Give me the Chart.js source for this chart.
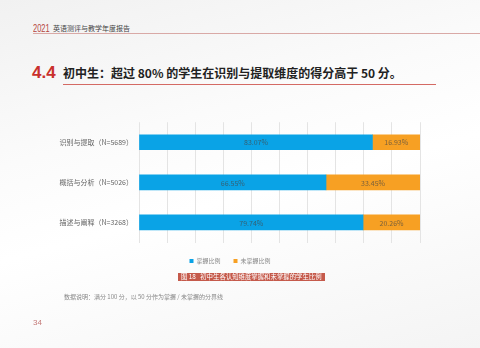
<!DOCTYPE html>
<html>
<head>
<meta charset="utf-8">
<script src="https://cdn.jsdelivr.net/npm/chart.js@4.4.0/dist/chart.umd.min.js"></script>
<style>
  html, body { margin: 0; padding: 0; }
  body {
    width: 480px; height: 348px; position: relative; overflow: hidden;
    font-family: "Noto Sans CJK SC", "Noto Sans", sans-serif;
    background: linear-gradient(165deg, #f1f1f1 0%, #fbfbfb 35%, #ffffff 55%, #f4f4f4 100%);
  }
  .abs { position: absolute; white-space: nowrap; }
  #year { left: 33px; top: 23px; font-family: "Liberation Sans", sans-serif;
          font-size: 11px; color: #b5443c; line-height: 11px;
          transform: scaleX(0.68); transform-origin: left top; }
  #report { left: 53px; top: 24px; font-size: 7px; color: #444; line-height: 9px; }
  #topline { left: 33px; top: 33px; width: 447px; height: 0; border-top: 1px solid #d9a9a6; }
  #num { left: 32px; top: 63px; font-family: "Liberation Sans", Arial, sans-serif; font-weight: bold;
         font-size: 17px; color: #c9302c; line-height: 20px; }
  #title { left: 63px; top: 65px; font-size: 12px; font-weight: bold; color: #222; line-height: 16px; }
  #titleline { left: 63px; top: 84px; width: 373px; height: 0; border-top: 1px solid #d46a64; }
  #wrap { left: 40px; top: 112px; width: 410px; height: 162px; }
  #caption { left: 178px; top: 273px; width: 144px; height: 8px; background: #c55a4b; color: #fff;
             font-size: 6.4px; line-height: 8px; padding-left: 3px; }
  #note { left: 64px; top: 292px; font-size: 6px; color: #888; line-height: 9px; }
  #page { left: 33px; top: 318px; font-size: 8px; color: #c47a78; line-height: 10px;
          font-family: "Liberation Sans", sans-serif; }
</style>
</head>
<body>
<div class="abs" id="year">2021</div>
<div class="abs" id="report">英语测评与教学年度报告</div>
<div class="abs" id="topline"></div>
<div class="abs" id="num">4.4</div>
<div class="abs" id="title">初中生：超过 80% 的学生在识别与提取维度的得分高于 50 分。</div>
<div class="abs" id="titleline"></div>
<div class="abs" id="wrap"><canvas id="chart" width="410" height="162"></canvas></div>
<div class="abs" id="caption">图 18&nbsp;&nbsp;&nbsp;初中生各认知维度掌握和未掌握的学生比例</div>
<div class="abs" id="note">数据说明：满分 100 分，以 50 分作为掌握 / 未掌握的分界线</div>
<div class="abs" id="page">34</div>

<script>
// categories and series
var categories = ['识别与提取（N=5689）', '概括与分析（N=5026）', '描述与阐释（N=3268）'];
var mastered = [83.07, 66.55, 79.74];
var notMastered = [16.93, 33.45, 20.26];
var seriesNames = ['掌握比例', '未掌握比例'];
var tickValues = [0, 10, 20, 30, 40, 50, 60, 70, 80, 90, 100];

var colors = ['#0aa3e6', '#f7a023'];
var font = '"Noto Sans CJK SC", "Noto Sans", sans-serif';

// percentage text centred inside each bar segment
var barLabels = {
    id: 'barLabels',
    afterDatasetsDraw: function (chart) {
        var ctx = chart.ctx;
        ctx.save();
        ctx.font = '7px ' + font;
        ctx.fillStyle = 'rgba(70,70,70,0.7)';
        ctx.textAlign = 'center';
        ctx.textBaseline = 'middle';
        chart.data.datasets.forEach(function (ds, i) {
            chart.getDatasetMeta(i).data.forEach(function (bar, j) {
                var p = bar.getProps(['x', 'base', 'y'], true);
                ctx.fillText(ds.data[j].toFixed(2) + '%', (p.x + p.base) / 2, p.y + 0.5);
            });
        });
        ctx.restore();
    }
};

new Chart(document.getElementById('chart'), {
    type: 'bar',
    data: {
        labels: categories,
        datasets: [
            { label: seriesNames[0], data: mastered, backgroundColor: colors[0], barThickness: 15 },
            { label: seriesNames[1], data: notMastered, backgroundColor: colors[1], barThickness: 15 }
        ]
    },
    options: {
        indexAxis: 'y',
        responsive: false,
        animation: false,
        layout: { padding: { top: 8.5, right: 30, bottom: 0, left: 0 } },
        scales: {
            x: {
                stacked: true, min: 0, max: 100,
                afterBuildTicks: function (s) { s.ticks = tickValues.map(function (v) { return { value: v }; }); },
                afterFit: function (s) { s.height = 2.5; },
                ticks: { padding: 4, color: '#888', font: { family: font, size: 7.5 },
                         callback: function (v) { return v + '%'; } },
                grid: { color: '#e4e4e4', drawTicks: false },
                border: { display: false }
            },
            y: {
                stacked: true,
                afterFit: function (s) { s.width = 99; },
                ticks: { padding: 6, color: '#666', font: { family: font, size: 7 } },
                grid: { display: false, drawTicks: false },
                border: { display: false }
            }
        },
        plugins: {
            legend: {
                position: 'bottom',
                labels: { boxWidth: 4, boxHeight: 4, padding: 13, color: '#888',
                          font: { family: font, size: 6 } }
            },
            tooltip: { enabled: false }
        }
    },
    plugins: [barLabels]
});
</script>
</body>
</html>
